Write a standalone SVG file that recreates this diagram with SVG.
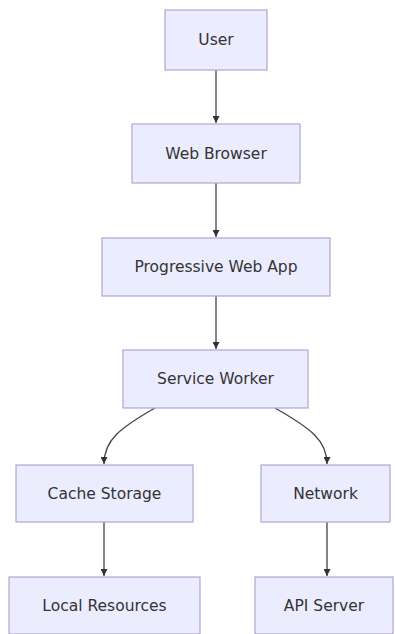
<svg xmlns="http://www.w3.org/2000/svg" width="395" height="634" viewBox="0 0 395 634">
<defs>
<style>
.node rect{fill:#ECECFF;stroke:#b0a6d6;stroke-width:1.2}
.node text{font-family:"DejaVu Sans",Verdana,sans-serif;font-size:15.5px;fill:#333;text-anchor:middle;dominant-baseline:central}
.edge{fill:none;stroke:#444;stroke-width:1.3}
</style>
<marker id="arr" viewBox="0 0 10 10" refX="10" refY="5" markerWidth="7" markerHeight="7" markerUnits="userSpaceOnUse" orient="auto">
<path d="M0,0 L10,5 L0,10 z" fill="#333"/>
</marker>
</defs>
<rect width="395" height="634" fill="#fff"/>
<g id="edges">
<path class="edge" d="M216,70 L216,123" marker-end="url(#arr)"/>
<path class="edge" d="M216,183 L216,237" marker-end="url(#arr)"/>
<path class="edge" d="M216,296 L216,349" marker-end="url(#arr)"/>
<path class="edge" d="M155,408 C120,428 104,440 104,464" marker-end="url(#arr)"/>
<path class="edge" d="M275,408 C310,428 327,440 327,464" marker-end="url(#arr)"/>
<path class="edge" d="M104,522 L104,576" marker-end="url(#arr)"/>
<path class="edge" d="M327,522 L327,576" marker-end="url(#arr)"/>
</g>
<g id="user" class="node"><rect x="165" y="10" width="102" height="60"/><text x="216" y="40">User</text></g>
<g id="browser" class="node"><rect x="132" y="124" width="168" height="59"/><text x="216" y="153.5">Web Browser</text></g>
<g id="pwa" class="node"><rect x="102" y="238" width="228" height="58"/><text x="216" y="267">Progressive Web App</text></g>
<g id="sw" class="node"><rect x="123" y="350" width="185" height="58"/><text x="215.5" y="379">Service Worker</text></g>
<g id="cache" class="node"><rect x="16" y="465" width="177" height="57"/><text x="104.5" y="493.5">Cache Storage</text></g>
<g id="network" class="node"><rect x="261" y="465" width="129" height="57"/><text x="325.5" y="493.5">Network</text></g>
<g id="local" class="node"><rect x="9" y="577" width="191" height="57"/><text x="104.5" y="605.5">Local Resources</text></g>
<g id="api" class="node"><rect x="255" y="577" width="138" height="57"/><text x="324" y="605.5">API Server</text></g>
</svg>
